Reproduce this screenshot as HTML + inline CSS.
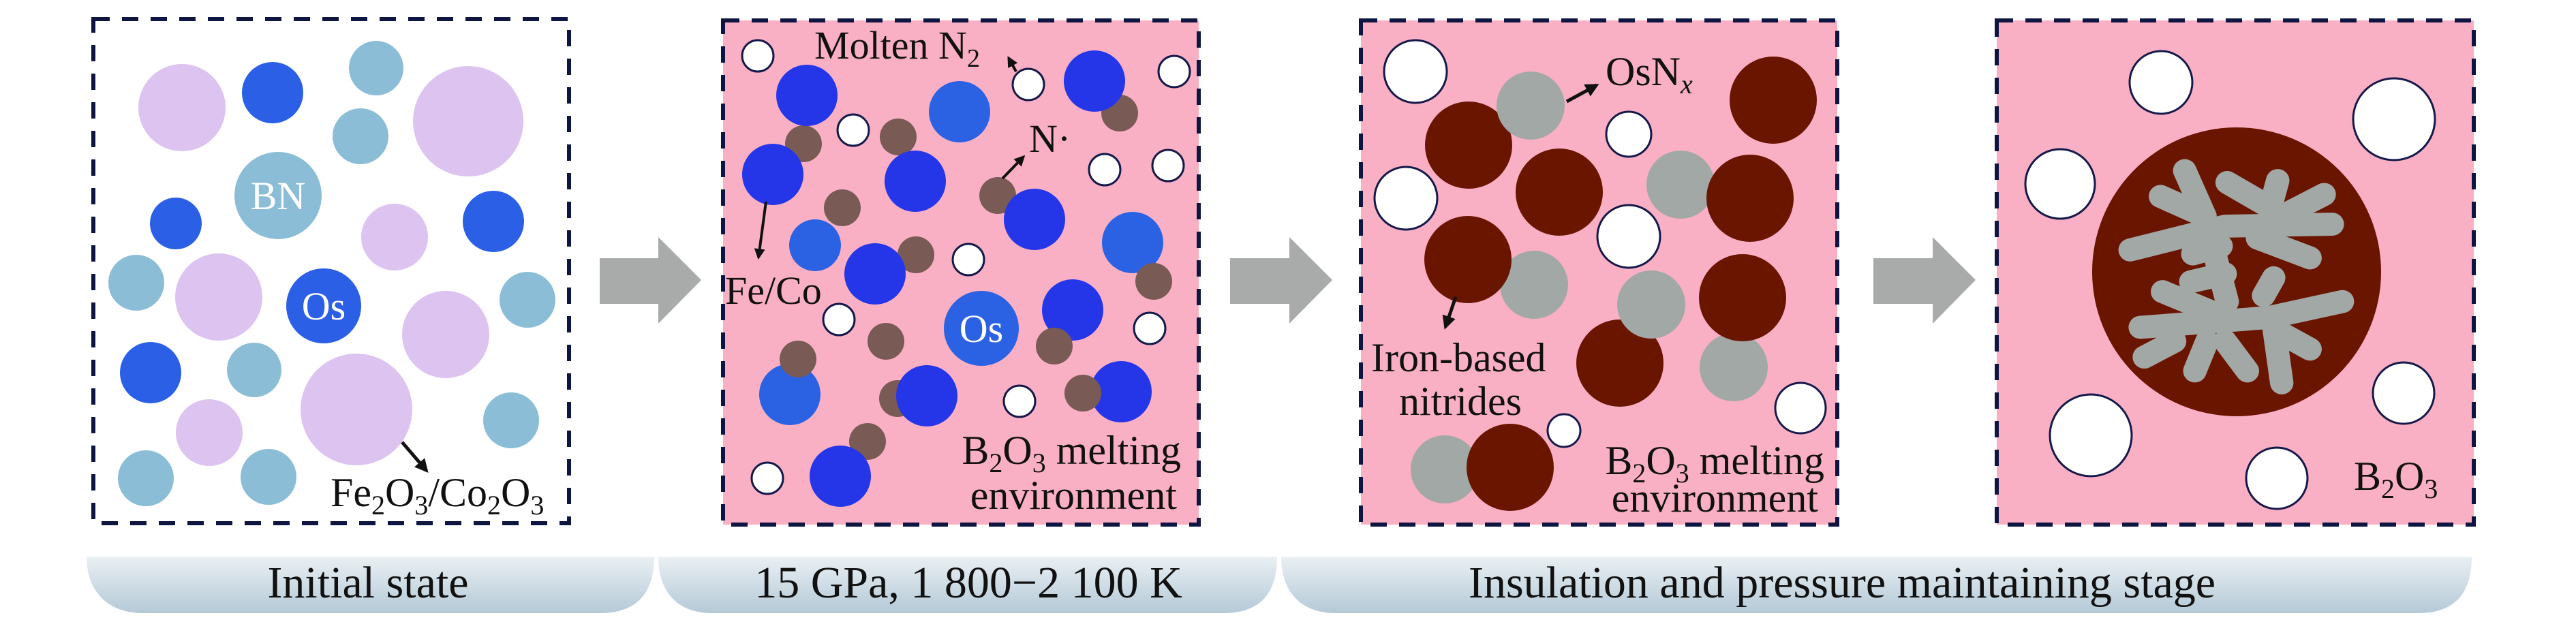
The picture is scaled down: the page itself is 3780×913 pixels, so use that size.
<!DOCTYPE html>
<html><head><meta charset="utf-8"><style>
html,body{margin:0;padding:0;background:#fff;}
svg{display:block;}
svg text, svg tspan{font-family:"Liberation Serif","Times New Roman",serif;fill:#111;}
</style></head><body>
<svg width="3780" height="913" viewBox="0 0 3780 913" xmlns="http://www.w3.org/2000/svg" font-family="Liberation Serif, Times New Roman, serif">
<defs>
<linearGradient id="bg" x1="0" y1="0" x2="0" y2="1"><stop offset="0" stop-color="#eaf0f3"/><stop offset="1" stop-color="#b4c9d7"/></linearGradient>
<marker id="ah" viewBox="0 0 10 10" refX="8" refY="5" markerWidth="4" markerHeight="4" orient="auto"><path d="M0,0L10,5L0,10z" fill="#111"/></marker>
</defs>
<!-- banners -->
<path d="M127,817 H960 V817 C960,870 935,900 880,900 H210 C160,900 127,870 127,817Z" fill="url(#bg)"/>
<path d="M966,817 H1874 C1874,870 1850,900 1795,900 H1045 C995,900 966,870 966,817Z" fill="url(#bg)"/>
<path d="M1880,817 H3627 C3627,870 3603,900 3548,900 H1960 C1910,900 1880,870 1880,817Z" fill="url(#bg)"/>
<text x="540" y="877" font-size="66" text-anchor="middle">Initial state</text>
<text x="1421" y="877" font-size="66" text-anchor="middle">15 GPa, 1 800−2 100 K</text>
<text x="2703" y="877" font-size="66" text-anchor="middle">Insulation and pressure maintaining stage</text>
<!-- gray arrows -->
<g fill="#a9abab">
<path d="M880,379H966V348L1029,411L966,475V446H880Z"/>
<path d="M1805,379H1892V348L1955,411L1892,475V446H1805Z"/>
<path d="M2749,379H2836V348L2899,411L2836,475V446H2749Z"/>
</g>
<!-- panel boxes -->
<rect x="1061" y="30" width="698" height="740" fill="#f9b0c4"/>
<rect x="1997" y="30" width="699" height="740" fill="#f9b0c4"/>
<rect x="2930" y="30" width="700" height="740" fill="#f9b0c4"/>
<!-- panel 1 -->
<g>
<circle cx="267" cy="158" r="64" fill="#dcc3f0"/>
<circle cx="400" cy="136" r="45" fill="#2a5fe6"/>
<circle cx="552" cy="100" r="40" fill="#8bbdd6"/>
<circle cx="529" cy="200" r="41" fill="#8bbdd6"/>
<circle cx="687" cy="178" r="81" fill="#dcc3f0"/>
<circle cx="408" cy="287" r="64" fill="#8bbdd6"/>
<circle cx="258" cy="328" r="38" fill="#2a5fe6"/>
<circle cx="579" cy="348" r="49" fill="#dcc3f0"/>
<circle cx="724" cy="325" r="45" fill="#2a5fe6"/>
<circle cx="200" cy="415" r="41" fill="#8bbdd6"/>
<circle cx="321" cy="436" r="64" fill="#dcc3f0"/>
<circle cx="475" cy="449" r="55" fill="#2a5fe6"/>
<circle cx="774" cy="440" r="41" fill="#8bbdd6"/>
<circle cx="654" cy="491" r="64" fill="#dcc3f0"/>
<circle cx="221" cy="547" r="45" fill="#2a5fe6"/>
<circle cx="373" cy="543" r="40" fill="#8bbdd6"/>
<circle cx="523" cy="601" r="82" fill="#dcc3f0"/>
<circle cx="750" cy="617" r="41" fill="#8bbdd6"/>
<circle cx="307" cy="635" r="49" fill="#dcc3f0"/>
<circle cx="214" cy="702" r="41" fill="#8bbdd6"/>
<circle cx="394" cy="700" r="41" fill="#8bbdd6"/>
<text x="408" y="307" font-size="58" text-anchor="middle" style="fill:#fff">BN</text>
<text x="475" y="469" font-size="58" text-anchor="middle" style="fill:#fff">Os</text>
<line x1="590" y1="649" x2="626" y2="691" stroke="#111" stroke-width="5" marker-end="url(#ah)"/>
<text x="485" y="743" font-size="60">Fe<tspan font-size="40" dy="12">2</tspan><tspan dy="-12">O</tspan><tspan font-size="40" dy="12">3</tspan><tspan dy="-12">/Co</tspan><tspan font-size="40" dy="12">2</tspan><tspan dy="-12">O</tspan><tspan font-size="40" dy="12">3</tspan></text>
</g>
<!-- panel 2 -->
<g>
<g fill="#795a55">
<circle cx="1179" cy="211" r="27"/><circle cx="1318" cy="201" r="27"/><circle cx="1643" cy="166" r="27"/>
<circle cx="1464" cy="287" r="27"/><circle cx="1344" cy="374" r="27"/><circle cx="1317" cy="585" r="27"/><circle cx="1273" cy="648" r="27"/>
</g>
<g fill="#2535e8">
<circle cx="1184" cy="140" r="45"/><circle cx="1606" cy="119" r="45"/><circle cx="1134" cy="256" r="45"/>
<circle cx="1343" cy="266" r="45"/><circle cx="1518" cy="322" r="45"/><circle cx="1284" cy="402" r="45"/>
<circle cx="1574" cy="455" r="45"/><circle cx="1360" cy="581" r="45"/><circle cx="1645" cy="575" r="45"/><circle cx="1233" cy="699" r="45"/>
</g>
<g fill="#2b62e3">
<circle cx="1408" cy="164" r="45"/><circle cx="1196" cy="360" r="38"/><circle cx="1662" cy="356" r="45"/>
<circle cx="1440" cy="482" r="55"/><circle cx="1159" cy="579" r="45"/>
</g>
<g fill="#795a55">
<circle cx="1236" cy="305" r="27"/><circle cx="1693" cy="413" r="27"/><circle cx="1300" cy="501" r="27"/>
<circle cx="1547" cy="508" r="27"/><circle cx="1171" cy="527" r="27"/><circle cx="1589" cy="577" r="27"/>
</g>
<g fill="#fff" stroke="#14194a" stroke-width="3">
<circle cx="1112" cy="82" r="23"/><circle cx="1509" cy="124" r="23"/><circle cx="1723" cy="105" r="23"/>
<circle cx="1252" cy="191" r="23"/><circle cx="1621" cy="249" r="23"/><circle cx="1714" cy="243" r="23"/>
<circle cx="1421" cy="381" r="23"/><circle cx="1231" cy="469" r="23"/><circle cx="1687" cy="482" r="23"/>
<circle cx="1496" cy="589" r="23"/><circle cx="1126" cy="702" r="23"/>
</g>
<text x="1440" y="502" font-size="58" text-anchor="middle" style="fill:#fff">Os</text>
<text x="1195" y="86" font-size="58">Molten N<tspan font-size="38" dy="12">2</tspan></text>
<line x1="1491" y1="105" x2="1480" y2="85" stroke="#111" stroke-width="4" marker-end="url(#ah)"/>
<text x="1510" y="223" font-size="58">N·</text>
<line x1="1471" y1="262" x2="1502" y2="230" stroke="#111" stroke-width="4" marker-end="url(#ah)"/>
<text x="1064" y="446" font-size="58">Fe/Co</text>
<line x1="1124" y1="296" x2="1113" y2="378" stroke="#111" stroke-width="4" marker-end="url(#ah)"/>
<text x="1733" y="681" font-size="60" text-anchor="end">B<tspan font-size="40" dy="12">2</tspan><tspan dy="-12">O</tspan><tspan font-size="40" dy="12">3</tspan><tspan dy="-12"> melting</tspan></text>
<text x="1727" y="747" font-size="60" text-anchor="end">environment</text>
</g>
<!-- panel 3 -->
<g>
<g fill="#a2a8a5">
<circle cx="2466" cy="271" r="50"/><circle cx="2251" cy="418" r="50"/><circle cx="2544" cy="539" r="50"/><circle cx="2120" cy="689" r="50"/>
</g>
<g fill="#6a1500">
<circle cx="2155" cy="213" r="64"/><circle cx="2288" cy="282" r="64"/><circle cx="2602" cy="147" r="64"/>
<circle cx="2568" cy="291" r="64"/><circle cx="2154" cy="381" r="64"/><circle cx="2557" cy="437" r="64"/>
<circle cx="2377" cy="533" r="64"/><circle cx="2216" cy="686" r="64"/>
</g>
<g fill="#a2a8a5"><circle cx="2246" cy="155" r="50"/><circle cx="2423" cy="447" r="50"/></g>
<g fill="#fff" stroke="#14194a" stroke-width="3">
<circle cx="2077" cy="105" r="46"/><circle cx="2390" cy="197" r="33"/><circle cx="2063" cy="291" r="46"/>
<circle cx="2390" cy="347" r="46"/><circle cx="2642" cy="599" r="37"/><circle cx="2295" cy="632" r="24"/>
</g>
<text x="2356" y="125" font-size="60">OsN<tspan font-size="40" dy="12" font-style="italic">x</tspan></text>
<line x1="2299" y1="149" x2="2343" y2="125" stroke="#111" stroke-width="5" marker-end="url(#ah)"/>
<text x="2012" y="545" font-size="60">Iron-based</text>
<text x="2053" y="609" font-size="60">nitrides</text>
<line x1="2136" y1="436" x2="2121" y2="480" stroke="#111" stroke-width="5" marker-end="url(#ah)"/>
<text x="2677" y="696" font-size="60" text-anchor="end">B<tspan font-size="40" dy="12">2</tspan><tspan dy="-12">O</tspan><tspan font-size="40" dy="12">3</tspan><tspan dy="-12"> melting</tspan></text>
<text x="2668" y="751" font-size="60" text-anchor="end">environment</text>
</g>
<!-- panel 4 -->
<g>
<g fill="#fff" stroke="#14194a" stroke-width="3">
<circle cx="3171" cy="121" r="46"/><circle cx="3513" cy="175" r="60"/><circle cx="3023" cy="270" r="51"/>
<circle cx="3527" cy="577" r="45"/><circle cx="3068" cy="639" r="60"/><circle cx="3341" cy="702" r="45"/>
</g>
<circle cx="3282" cy="399" r="212" fill="#6a1500"/>
<g transform="translate(2850,0) scale(0.5931,0.5824)" stroke="#a2a8a5" stroke-width="58" stroke-linecap="round" stroke-linejoin="round" fill="none">
<path d="M600,430L650,545"/><path d="M540,495L650,545"/>
<path d="M465,630L700,570L965,565"/>
<path d="M705,460L815,525"/><path d="M830,455L810,530"/><path d="M945,490L840,545"/>
<path d="M780,600L910,650"/>
<path d="M660,585L705,760"/><path d="M620,640L690,620"/><path d="M615,710L700,690"/>
<path d="M820,700L795,745"/>
<path d="M545,735L700,800"/>
<path d="M490,825L810,800L990,760"/>
<path d="M500,900L575,860"/><path d="M625,935L655,860"/><path d="M700,860L755,935"/>
<path d="M840,965L820,820"/><path d="M830,835L910,880"/>
</g>
<text x="3454" y="719" font-size="60">B<tspan font-size="40" dy="12">2</tspan><tspan dy="-12">O</tspan><tspan font-size="40" dy="12">3</tspan></text>
</g>
<!-- dashed borders -->
<g fill="none" stroke="#0d1540" stroke-width="6" stroke-dasharray="24 18">
<rect x="137" y="28" width="698" height="740"/>
<rect x="1061" y="30" width="698" height="740"/>
<rect x="1997" y="30" width="699" height="740"/>
<rect x="2930" y="30" width="700" height="740"/>
</g>
</svg>
</body></html>
